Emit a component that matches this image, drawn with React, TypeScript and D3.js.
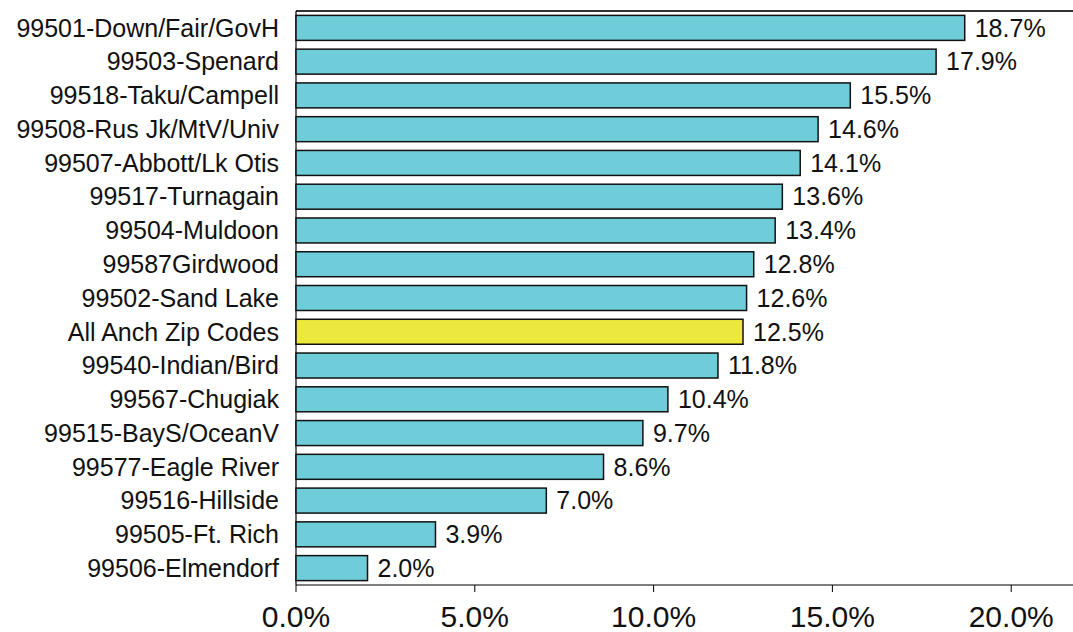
import React from 'react'
import * as d3 from 'd3'

const zips = [
  '99501-Down/Fair/GovH', '99503-Spenard', '99518-Taku/Campell', '99508-Rus Jk/MtV/Univ',
  '99507-Abbott/Lk Otis', '99517-Turnagain', '99504-Muldoon', '99587Girdwood',
  '99502-Sand Lake', 'All Anch Zip Codes', '99540-Indian/Bird', '99567-Chugiak',
  '99515-BayS/OceanV', '99577-Eagle River', '99516-Hillside', '99505-Ft. Rich', '99506-Elmendorf',
]
const rates = [18.7, 17.9, 15.5, 14.6, 14.1, 13.6, 13.4, 12.8, 12.6, 12.5, 11.8, 10.4, 9.7, 8.6, 7.0, 3.9, 2.0]
const xTicks = [0, 5, 10, 15, 20]
const highlight = 'All Anch Zip Codes'

const width = 1073
const height = 632
const marginTop = 11
const marginBottom = 47
const marginLeft = 296
const marginRight = 1

export default function App() {
  const x = d3.scaleLinear().domain([0, 21.7]).range([marginLeft, width - marginRight])
  const y = d3.scaleBand().domain(zips).range([marginTop, height - marginBottom]).paddingInner(0.26).paddingOuter(0.13)
  const font = '"Liberation Sans", Arial, sans-serif'
  const fmt = d3.format('.1f')

  return (
    <svg width={width} height={height} style={{ position: 'absolute', left: 0, top: 0 }} fontFamily={font}>
      {/* frame */}
      <line x1={marginLeft} x2={width} y1={marginTop} y2={marginTop} stroke="#333" strokeWidth={2} />
      <line x1={marginLeft} x2={marginLeft} y1={marginTop} y2={height - marginBottom} stroke="#000" strokeWidth={1.2} />

      {zips.map((z, i) => (
        <g key={z}>
          <rect x={x(0)} y={y(z)} width={x(rates[i]) - x(0)} height={y.bandwidth()}
            fill={z === highlight ? '#EDE83D' : '#6FCCD9'} stroke="#111" strokeWidth={1.5} />
          <text x={279} y={(y(z) as number) + y.bandwidth() / 2} dy="0.35em" textAnchor="end" fontSize={25} fill="#111">{z}</text>
          <text x={x(rates[i]) + 10} y={(y(z) as number) + y.bandwidth() / 2} dy="0.35em" fontSize={25} fill="#111">{fmt(rates[i])}%</text>
        </g>
      ))}

      {/* x axis */}
      <line x1={marginLeft} x2={width} y1={height - marginBottom} y2={height - marginBottom} stroke="#000" strokeWidth={1.2} />
      {xTicks.map(t => (
        <g key={t} transform={`translate(${x(t)},${height - marginBottom})`}>
          <line y1={0} y2={7} stroke="#000" />
          <text y={42} textAnchor="middle" fontSize={30} fill="#111">{fmt(t)}%</text>
        </g>
      ))}
    </svg>
  )
}
